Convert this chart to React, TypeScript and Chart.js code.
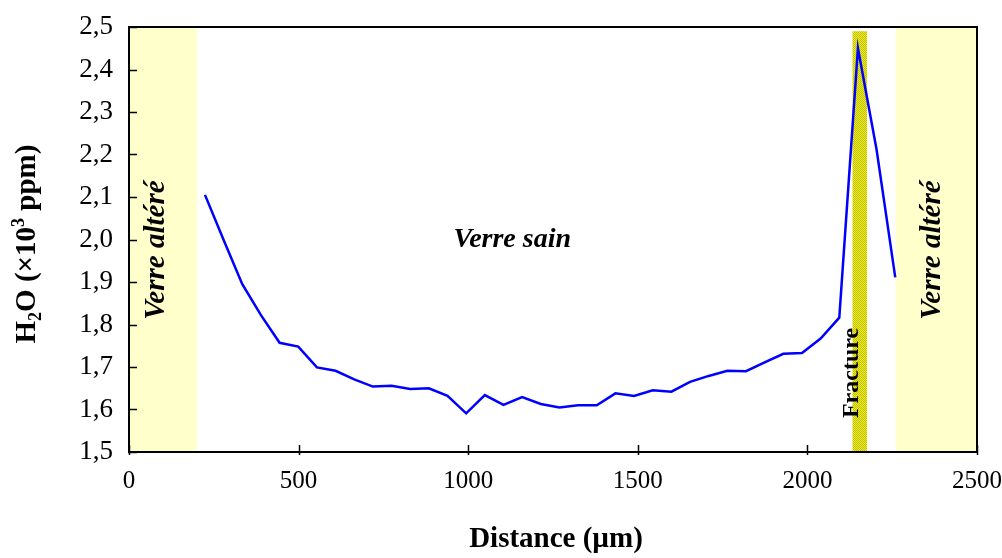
import React, { useEffect, useRef } from "react";
import { Chart, registerables } from "chart.js";

Chart.register(...registerables);

// ---- Data ----
const distances = [224, 279, 334, 389, 444, 499, 554, 609, 664, 719, 774, 829, 884, 939, 994, 1049, 1104, 1159, 1214, 1269, 1324, 1379, 1434, 1489, 1544, 1599, 1654, 1709, 1764, 1819, 1874, 1929, 1984, 2039, 2094, 2149, 2204, 2259];
const h2o = [2.105, 1.999, 1.895, 1.822, 1.757, 1.748, 1.699, 1.691, 1.671, 1.654, 1.656, 1.648, 1.650, 1.632, 1.591, 1.634, 1.611, 1.629, 1.613, 1.605, 1.610, 1.610, 1.638, 1.632, 1.645, 1.642, 1.665, 1.679, 1.691, 1.690, 1.711, 1.731, 1.733, 1.767, 1.816, 2.450, 2.211, 1.911];

const alteredZones = [[0, 200], [2260, 2500]];
const fractureZone = [2133, 2176];
const fractureTop = 2.49;

const xTicks = [0, 500, 1000, 1500, 2000, 2500];
const yTicks = [1.5, 1.6, 1.7, 1.8, 1.9, 2.0, 2.1, 2.2, 2.3, 2.4, 2.5];

const labelAltered = "Verre altéré";
const labelSain = "Verre sain";
const labelFracture = "Fracture";
const xTitle = "Distance (µm)";

const FONT = "'Liberation Serif', 'Times New Roman', serif";

function makePattern(ctx: CanvasRenderingContext2D) {
  const c = document.createElement("canvas");
  c.width = 2;
  c.height = 2;
  const p = c.getContext("2d")!;
  p.fillStyle = "#f0f000";
  p.fillRect(0, 0, 2, 2);
  p.fillStyle = "#bcbc30";
  p.fillRect(0, 0, 1, 1);
  p.fillRect(1, 1, 1, 1);
  return ctx.createPattern(c, "repeat");
}

const overlayPlugin = {
  id: "overlay",
  beforeDatasetsDraw(chart: any) {
    const { ctx, chartArea, scales } = chart;
    const { top, bottom } = chartArea;
    const x = scales.x;
    const y = scales.y;
    ctx.save();
    ctx.fillStyle = "#ffffcc";
    for (const [a, b] of alteredZones) {
      const x1 = x.getPixelForValue(a);
      const x2 = x.getPixelForValue(b);
      ctx.fillRect(x1, top, x2 - x1, bottom - top);
    }
    const f1 = x.getPixelForValue(fractureZone[0]);
    const f2 = x.getPixelForValue(fractureZone[1]);
    const ft = y.getPixelForValue(fractureTop);
    ctx.fillStyle = makePattern(ctx) || "#d4d418";
    ctx.fillRect(f1, ft, f2 - f1, bottom - ft);
    ctx.restore();
  },
  afterDatasetsDraw(chart: any) {
    const { ctx, chartArea, scales } = chart;
    const { left, right, top, bottom } = chartArea;
    const x = scales.x;
    const y = scales.y;
    ctx.save();
    ctx.fillStyle = "#000";

    const rot = (text: string, cx: number, cy: number, font: string) => {
      ctx.save();
      ctx.translate(cx, cy);
      ctx.rotate(-Math.PI / 2);
      ctx.font = font;
      ctx.textAlign = "center";
      ctx.textBaseline = "middle";
      ctx.fillText(text, 0, 0);
      ctx.restore();
    };
    const yMid = y.getPixelForValue(1.975);
    rot(labelAltered, (x.getPixelForValue(alteredZones[0][0]) + x.getPixelForValue(alteredZones[0][1])) / 2 - 6, yMid, `italic bold 29px ${FONT}`);
    rot(labelAltered, (x.getPixelForValue(alteredZones[1][0]) + x.getPixelForValue(alteredZones[1][1])) / 2 - 4, yMid, `italic bold 29px ${FONT}`);
    rot(labelFracture, (x.getPixelForValue(fractureZone[0]) + x.getPixelForValue(fractureZone[1])) / 2 - 8, y.getPixelForValue(1.686), `bold 24px ${FONT}`);

    ctx.font = `italic bold 28px ${FONT}`;
    ctx.textAlign = "center";
    ctx.textBaseline = "middle";
    ctx.fillText(labelSain, x.getPixelForValue(1130), y.getPixelForValue(2.0));

    ctx.font = `bold 29px ${FONT}`;
    ctx.fillText(xTitle, (left + right) / 2 + 3, 540);

    // y title with sub/superscript
    ctx.save();
    ctx.translate(25, 244);
    ctx.rotate(-Math.PI / 2);
    const parts = [
      { t: "H", s: 29, dy: 0 },
      { t: "2", s: 18, dy: 6 },
      { t: "O (×10", s: 29, dy: 0 },
      { t: "3", s: 18, dy: -11 },
      { t: " ppm)", s: 29, dy: 0 },
    ];
    let total = 0;
    for (const p of parts) {
      ctx.font = `bold ${p.s}px ${FONT}`;
      total += ctx.measureText(p.t).width;
    }
    let cx = -total / 2;
    ctx.textAlign = "left";
    ctx.textBaseline = "alphabetic";
    for (const p of parts) {
      ctx.font = `bold ${p.s}px ${FONT}`;
      ctx.fillText(p.t, cx, 10 + p.dy);
      cx += ctx.measureText(p.t).width;
    }
    ctx.restore();

    // border
    ctx.strokeStyle = "#000";
    ctx.lineWidth = 2;
    ctx.strokeRect(left, top, right - left, bottom - top);

    // inner ticks
    ctx.lineWidth = 1.5;
    ctx.beginPath();
    for (const v of yTicks) {
      const py = Math.round(y.getPixelForValue(v)) + 0.5;
      ctx.moveTo(left - 1, py);
      ctx.lineTo(left + 8, py);
    }
    for (const v of xTicks) {
      const px = Math.round(x.getPixelForValue(v)) + 0.5;
      ctx.moveTo(px, bottom + 3);
      ctx.lineTo(px, bottom - 7);
    }
    ctx.stroke();
    ctx.restore();
  },
};

export default function App() {
  const ref = useRef<HTMLCanvasElement | null>(null);

  useEffect(() => {
    document.body.style.margin = "0";
    const canvas = ref.current!;
    const chart = new Chart(canvas, {
      type: "line",
      data: {
        datasets: [
          {
            data: distances.map((d, i) => ({ x: d, y: h2o[i] })),
            borderColor: "#0000ff",
            borderWidth: 2.5,
            pointRadius: 0,
            tension: 0,
            fill: false,
          },
        ],
      },
      options: {
        responsive: false,
        animation: false,
        devicePixelRatio: 1,
        layout: { padding: { left: 0, top: 27, right: 25, bottom: 0 } },
        plugins: { legend: { display: false }, tooltip: { enabled: false }, title: { display: false } },
        scales: {
          x: {
            type: "linear",
            min: 0,
            max: 2500,
            afterFit: (s: any) => { s.height = 558 - 452; s.paddingLeft = 0; s.paddingRight = 0; },
            afterBuildTicks: (s: any) => { s.ticks = xTicks.map((v) => ({ value: v })); },
            grid: { display: false, drawTicks: false },
            border: { display: false },
            ticks: {
              color: "#000",
              font: { family: FONT, size: 25 },
              padding: 14,
              maxRotation: 0,
              callback: (v: any) => String(v),
            },
          },
          y: {
            type: "linear",
            min: 1.5,
            max: 2.5,
            afterFit: (s: any) => { s.width = 129; s.paddingTop = 0; s.paddingBottom = 0; },
            afterBuildTicks: (s: any) => { s.ticks = yTicks.map((v) => ({ value: v })); },
            grid: { display: false, drawTicks: false },
            border: { display: false },
            ticks: {
              color: "#000",
              font: { family: FONT, size: 27 },
              padding: 16,
              callback: (v: any) => Number(v).toFixed(1).replace(".", ","),
            },
          },
        },
      },
      plugins: [overlayPlugin],
    });
    return () => chart.destroy();
  }, []);

  return (
    <div style={{ width: 1002, height: 558 }}>
      <canvas ref={ref} width={1002} height={558} style={{ display: "block", width: 1002, height: 558 }} />
    </div>
  );
}
